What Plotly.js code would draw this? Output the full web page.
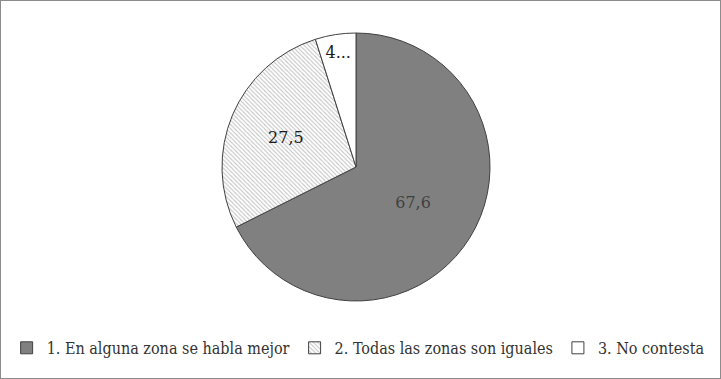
<!DOCTYPE html>
<html>
<head>
<meta charset="utf-8">
<script src="https://cdn.plot.ly/plotly-3.0.1.min.js"></script>
<style>
html,body{margin:0;padding:0;background:#fff;}
#chart{width:719px;height:377px;border:1px solid #8c8c8c;}
</style>
</head>
<body>
<div id="chart"></div>
<script>
const categories = ["1. En alguna zona se habla mejor", "2. Todas las zonas son iguales", "3. No contesta"];
const values = [67.6, 27.5, 4.9];
const sliceColors = ["#808080", "#ffffff", "#ffffff"];
const textColors = ["#404040", "#1a1a1a", "#1a1a1a"];

function fmt(v){ return String(v).replace('.', ','); }
const labelsText = values.map((v, i) => i === 2 ? fmt(v).charAt(0) + "..." : fmt(v));

const trace = {
  type: "pie",
  labels: categories,
  values: values,
  text: labelsText,
  textinfo: "text",
  textposition: "inside",
  insidetextorientation: "horizontal",
  sort: false,
  direction: "clockwise",
  rotation: 0,
  hoverinfo: "none",
  marker: {
    colors: sliceColors,
    line: {color: "#404040", width: 1},
    pattern: {
      shape: ["", "\\", ""],
      fgcolor: "#c4c4c4",
      bgcolor: "#ffffff",
      size: 3,
      solidity: 0.35
    }
  },
  insidetextfont: {family: "DejaVu Serif", size: 16, color: textColors}
};

const layout = {
  width: 719,
  height: 377,
  margin: {l: 0, r: 9, t: 32, b: 77, autoexpand: false},
  paper_bgcolor: "#ffffff",
  plot_bgcolor: "#ffffff",
  showlegend: true,
  legend: {
    orientation: "h",
    x: 0.503,
    xanchor: "center",
    y: -0.175,
    yanchor: "middle",
    font: {family: "DejaVu Serif Condensed", size: 16, color: "#333333"},
    itemwidth: 30,
    tracegroupgap: 0
  },
  font: {family: "DejaVu Serif"}
};

Plotly.newPlot("chart", [trace], layout, {displayModeBar: false, staticPlot: true});
</script>
</body>
</html>
